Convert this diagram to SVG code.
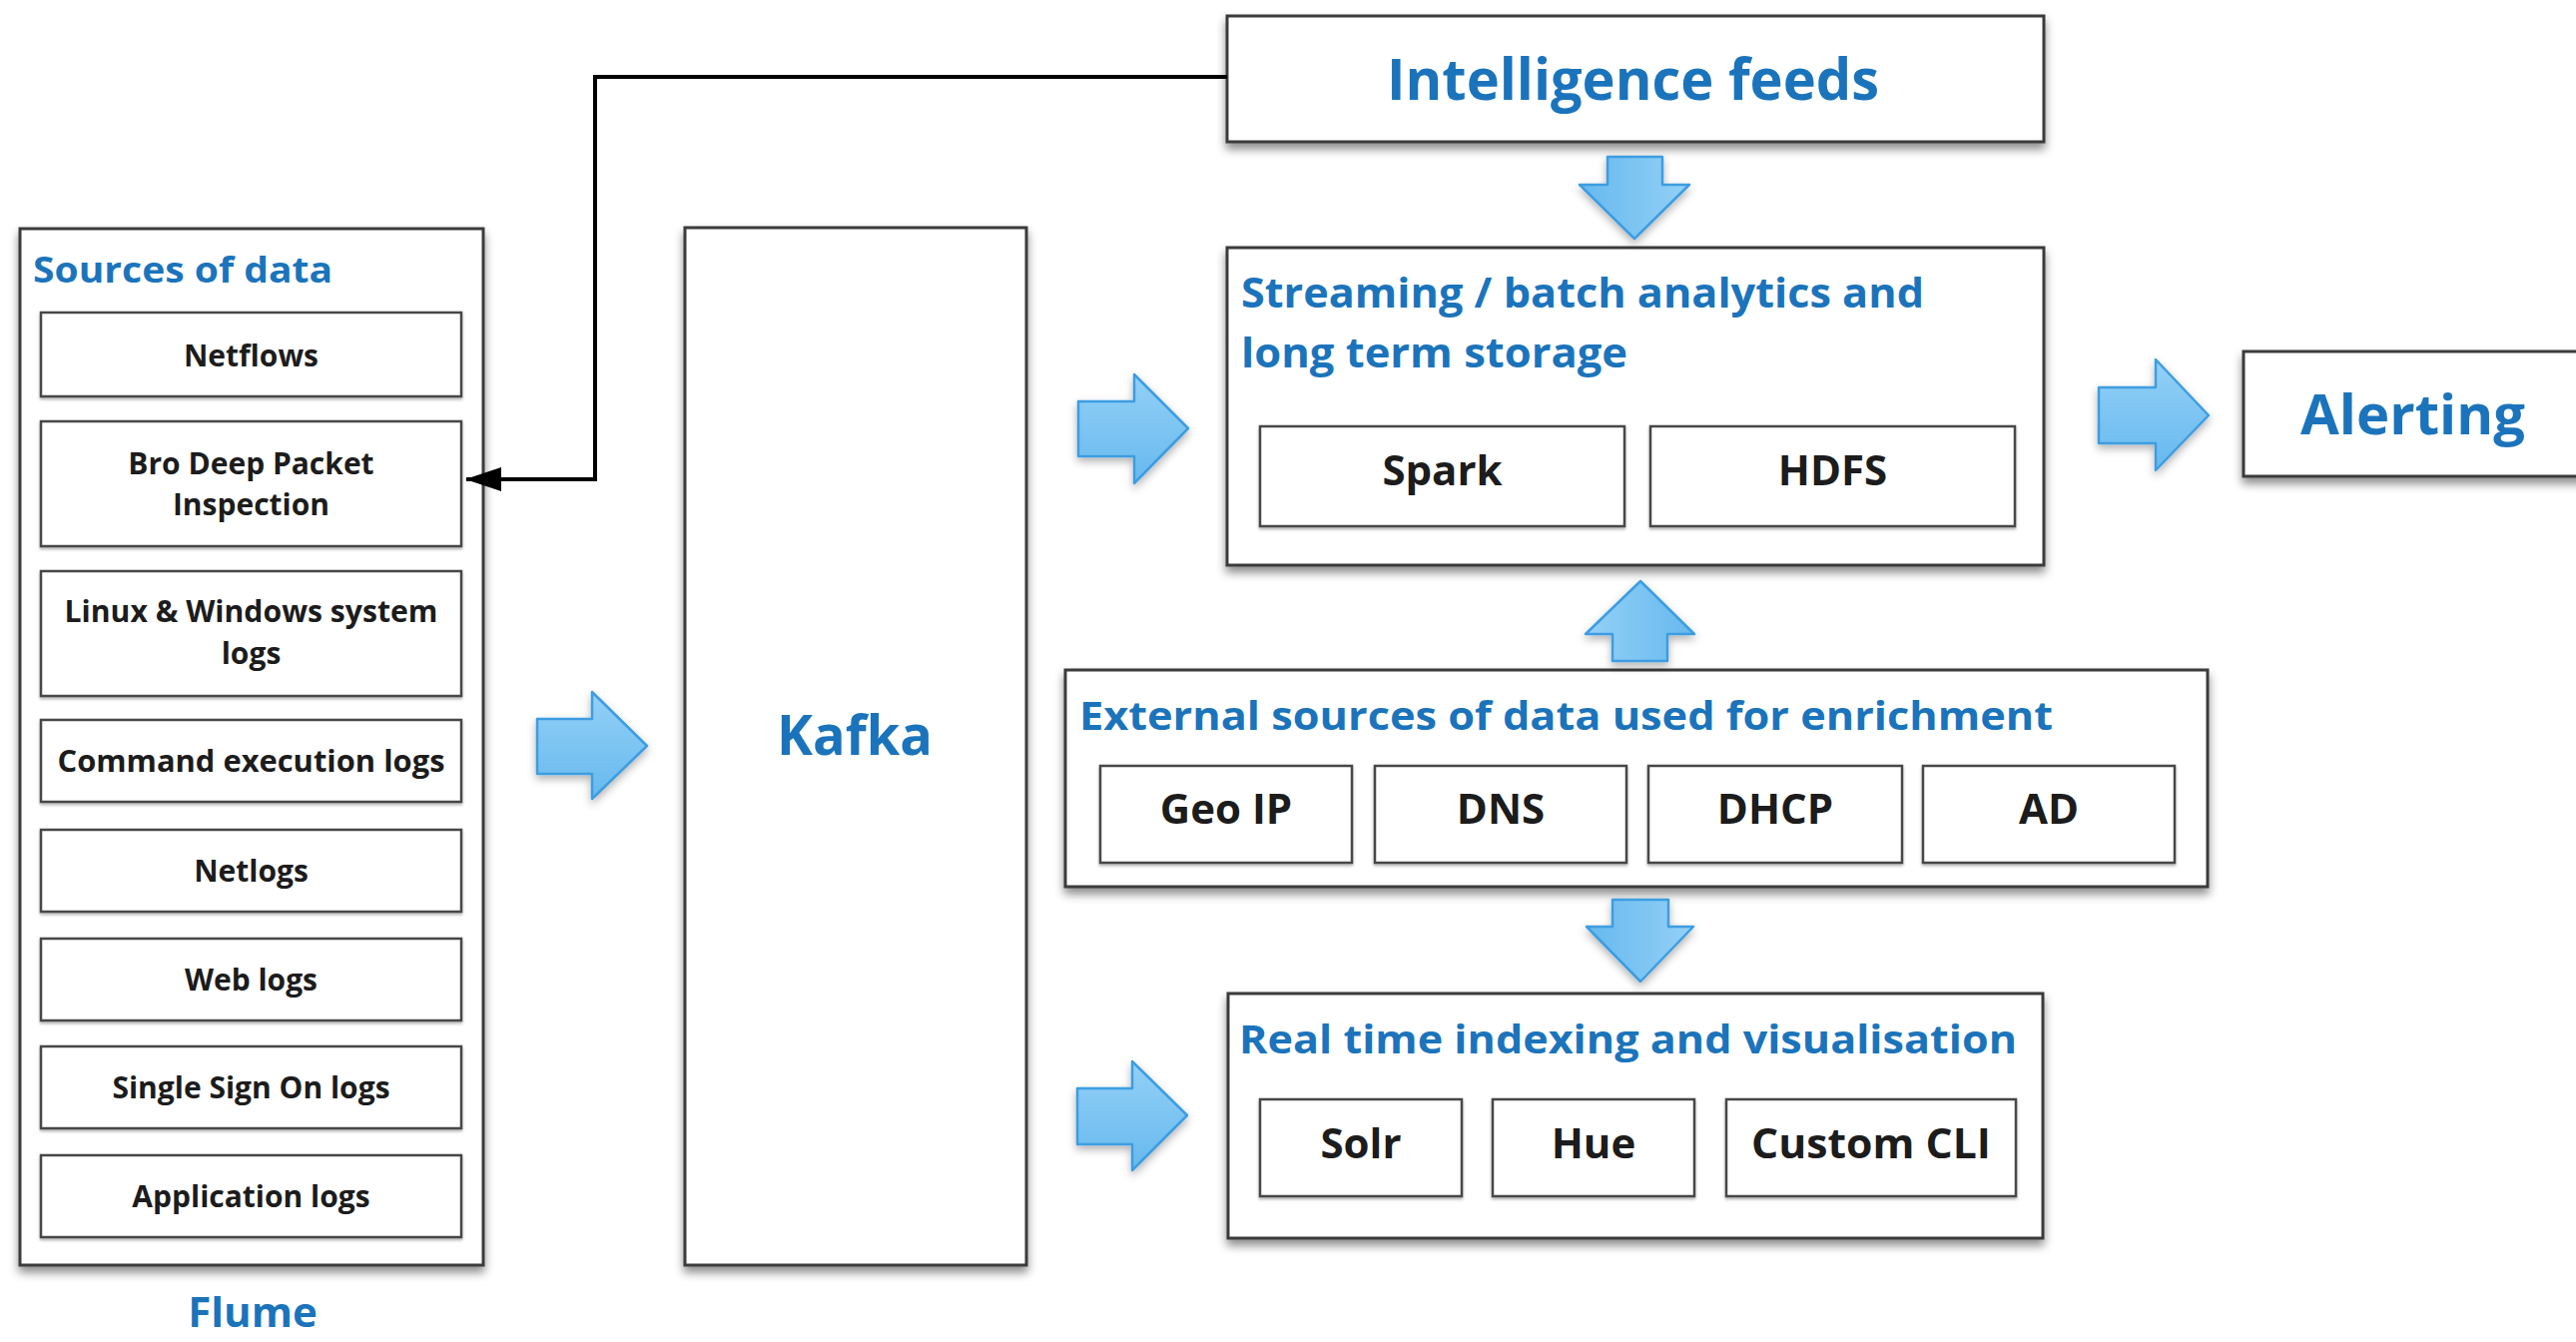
<svg xmlns="http://www.w3.org/2000/svg" width="2580" height="1344" viewBox="0 0 2580 1344">
<defs>
<style>
.box{fill:#fff;stroke:#3a3a3a;stroke-width:3}
.sub{fill:#fff;stroke:#474747;stroke-width:2.5}
.t{font-family:"Open Sans","Liberation Sans",sans-serif;font-weight:700}
.blue{fill:#1b74bb}
.blk{fill:#1c1c1c}
.c{text-anchor:middle}
.lbl{font-size:30px}
.big{font-size:42px}
.ttl{font-size:42px}
.arr{stroke:#3d9de0;stroke-width:2.5;stroke-linejoin:round}
.conn{fill:none;stroke:#000;stroke-width:4}
</style>
<filter id="sh" x="-10%" y="-10%" width="120%" height="130%">
<feDropShadow dx="0" dy="6" stdDeviation="5" flood-color="#000" flood-opacity="0.45"/>
</filter>
<filter id="shs" x="-10%" y="-10%" width="120%" height="130%">
<feDropShadow dx="0" dy="2" stdDeviation="1.5" flood-color="#000" flood-opacity="0.3"/>
</filter>
<filter id="sha" x="-20%" y="-20%" width="140%" height="150%">
<feDropShadow dx="0" dy="4" stdDeviation="4" flood-color="#000" flood-opacity="0.3"/>
</filter>
<linearGradient id="gH" x1="0" y1="0" x2="0" y2="1"><stop offset="0" stop-color="#93d0f7"/><stop offset="1" stop-color="#66b9ee"/></linearGradient>
<linearGradient id="gD" x1="1" y1="0" x2="0" y2="0"><stop offset="0" stop-color="#93d0f7"/><stop offset="1" stop-color="#66b9ee"/></linearGradient>
<linearGradient id="gU" x1="0" y1="0" x2="1" y2="0"><stop offset="0" stop-color="#93d0f7"/><stop offset="1" stop-color="#66b9ee"/></linearGradient>
<marker id="ah" viewBox="0 0 36 24" refX="35" refY="12" markerWidth="36" markerHeight="24" markerUnits="userSpaceOnUse" orient="auto">
<path d="M0,0 L36,12 L0,24 Z" fill="#000"/>
</marker>
</defs>
<rect width="2580" height="1344" fill="#fff"/>

<g id="sources">
<rect class="box" x="20" y="229" width="464" height="1038" filter="url(#sh)"/>
<text class="t blue" x="33" y="283" font-size="36" textLength="300" lengthAdjust="spacingAndGlyphs">Sources of data</text>
<g id="netflows"><rect class="sub" x="41" y="313" width="421" height="84" filter="url(#shs)"/><text class="t blk c lbl" x="251.5" y="367">Netflows</text></g>
<g id="bro"><rect class="sub" x="41" y="422" width="421" height="125" filter="url(#shs)"/><text class="t blk c lbl" x="251.5" y="475">Bro Deep Packet</text><text class="t blk c lbl" x="251.5" y="516">Inspection</text></g>
<g id="linux"><rect class="sub" x="41" y="572" width="421" height="125" filter="url(#shs)"/><text class="t blk c lbl" x="251.5" y="623" textLength="374" lengthAdjust="spacingAndGlyphs">Linux &amp; Windows system</text><text class="t blk c lbl" x="251.5" y="665">logs</text></g>
<g id="command"><rect class="sub" x="41" y="721" width="421" height="82" filter="url(#shs)"/><text class="t blk c lbl" x="251.5" y="773" textLength="388" lengthAdjust="spacingAndGlyphs">Command execution logs</text></g>
<g id="netlogs"><rect class="sub" x="41" y="831" width="421" height="82" filter="url(#shs)"/><text class="t blk c lbl" x="251.5" y="883">Netlogs</text></g>
<g id="weblogs"><rect class="sub" x="41" y="940" width="421" height="82" filter="url(#shs)"/><text class="t blk c lbl" x="251.5" y="992">Web logs</text></g>
<g id="sso"><rect class="sub" x="41" y="1048" width="421" height="82" filter="url(#shs)"/><text class="t blk c lbl" x="251.5" y="1100">Single Sign On logs</text></g>
<g id="applogs"><rect class="sub" x="41" y="1157" width="421" height="82" filter="url(#shs)"/><text class="t blk c lbl" x="251.5" y="1209">Application logs</text></g>
</g>

<g id="flume">
<text class="t blue c" x="253" y="1329" font-size="42">Flume</text>
</g>

<g id="kafka">
<rect class="box" x="686" y="228" width="342" height="1039" filter="url(#sh)"/>
<text class="t blue c" x="856" y="756" font-size="56" textLength="156" lengthAdjust="spacingAndGlyphs">Kafka</text>
</g>

<g id="intelligence">
<rect class="box" x="1229" y="16" width="818" height="126" filter="url(#sh)"/>
<text class="t blue" x="1389" y="100" font-size="58" textLength="493" lengthAdjust="spacingAndGlyphs">Intelligence feeds</text>
</g>

<g id="streaming">
<rect class="box" x="1229" y="248" width="818" height="318" filter="url(#sh)"/>
<text class="t blue ttl" x="1243" y="308" textLength="684" lengthAdjust="spacingAndGlyphs">Streaming / batch analytics and</text>
<text class="t blue ttl" x="1243" y="368" textLength="387" lengthAdjust="spacingAndGlyphs">long term storage</text>
<g id="spark"><rect class="sub" x="1262" y="427" width="365" height="100" filter="url(#shs)"/><text class="t blk c big" x="1444.5" y="486">Spark</text></g>
<g id="hdfs"><rect class="sub" x="1653" y="427" width="365" height="100" filter="url(#shs)"/><text class="t blk c big" x="1835.5" y="486">HDFS</text></g>
</g>

<g id="alerting">
<rect class="box" x="2247" y="352" width="400" height="125" filter="url(#sh)"/>
<text class="t blue" x="2304" y="435" font-size="56" textLength="225" lengthAdjust="spacingAndGlyphs">Alerting</text>
</g>

<g id="external">
<rect class="box" x="1067" y="671" width="1144" height="217" filter="url(#sh)"/>
<text class="t blue" x="1081" y="731" font-size="40" textLength="975" lengthAdjust="spacingAndGlyphs">External sources of data used for enrichment</text>
<g id="geoip"><rect class="sub" x="1102" y="767" width="252" height="97" filter="url(#shs)"/><text class="t blk c big" x="1228" y="825">Geo IP</text></g>
<g id="dns"><rect class="sub" x="1377" y="767" width="252" height="97" filter="url(#shs)"/><text class="t blk c big" x="1503" y="825">DNS</text></g>
<g id="dhcp"><rect class="sub" x="1651" y="767" width="254" height="97" filter="url(#shs)"/><text class="t blk c big" x="1778" y="825">DHCP</text></g>
<g id="ad"><rect class="sub" x="1926" y="767" width="252" height="97" filter="url(#shs)"/><text class="t blk c big" x="2052" y="825">AD</text></g>
</g>

<g id="realtime">
<rect class="box" x="1230" y="995" width="816" height="245" filter="url(#sh)"/>
<text class="t blue" x="1241" y="1055" font-size="40" textLength="779" lengthAdjust="spacingAndGlyphs">Real time indexing and visualisation</text>
<g id="solr"><rect class="sub" x="1262" y="1101" width="202" height="97" filter="url(#shs)"/><text class="t blk c big" x="1363" y="1160">Solr</text></g>
<g id="hue"><rect class="sub" x="1495" y="1101" width="202" height="97" filter="url(#shs)"/><text class="t blk c big" x="1596" y="1160">Hue</text></g>
<g id="customcli"><rect class="sub" x="1729" y="1101" width="290" height="97" filter="url(#shs)"/><text class="t blk c big" x="1874" y="1160" textLength="240" lengthAdjust="spacingAndGlyphs">Custom CLI</text></g>
</g>

<g id="connectors">
<path class="conn" d="M1229,77 H596 V480 H467" marker-end="url(#ah)"/>
<g filter="url(#sha)">
<path class="arr" fill="url(#gH)" d="M538,720 H593 V693 L648,747 L593,800 V775 H538 Z"/>
<path class="arr" fill="url(#gH)" d="M1080,402 H1136 V375 L1190,429 L1136,484 V457 H1080 Z"/>
<path class="arr" fill="url(#gH)" d="M1079,1090 H1134 V1063 L1189,1117 L1134,1172 V1146 H1079 Z"/>
<path class="arr" fill="url(#gH)" d="M2102,388 H2159 V360 L2212,416 L2159,471 V444 H2102 Z"/>
<path class="arr" fill="url(#gD)" d="M1610,157 H1665 V185 H1692 L1637,239 L1582,185 H1610 Z"/>
<path class="arr" fill="url(#gU)" d="M1615,662 V635 H1588 L1643,582 L1697,635 H1670 V662 Z"/>
<path class="arr" fill="url(#gD)" d="M1615,901 H1671 V928 H1696 L1643,983 L1589,928 H1615 Z"/>
</g>
</g>
</svg>
